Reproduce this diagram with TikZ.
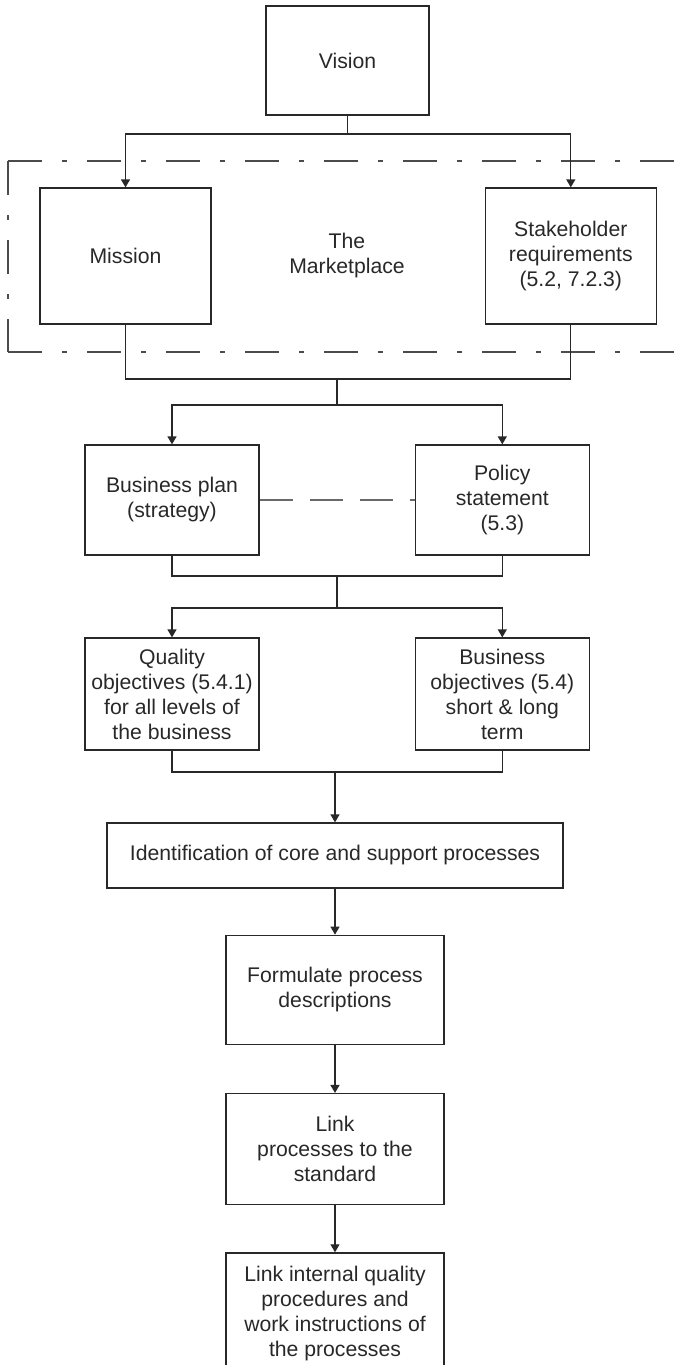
\documentclass[tikz,border=0pt]{standalone}
\usepackage{fontspec}
\setmainfont{Liberation Sans}
\usetikzlibrary{arrows.meta,positioning}
\definecolor{tinta}{RGB}{40,40,40}
\definecolor{grism}{RGB}{75,75,75}
\definecolor{grisc}{RGB}{105,105,105}
\tikzset{
  caja/.style={draw=tinta, line width=0.65pt, align=center, inner sep=0pt, text=tinta, font=\fontsize{10.6}{12.5}\selectfont},
  marco/.style={draw=grism, line width=1.25pt, dash pattern=on 17pt off 10pt on 2.5pt off 10pt},
  enl/.style={draw=tinta, line width=0.65pt},
  fl/.style={enl, -{Triangle[length=4pt,width=4.5pt]}},
  rayas/.style={draw=grisc, line width=0.75pt, dash pattern=on 16.5pt off 8.5pt},
  et/.style={align=center, text=tinta, font=\fontsize{10.6}{12.5}\selectfont},
}

\begin{document}
\begin{tikzpicture}[x=0.5pt, y=-0.5pt]
  \useasboundingbox (0,0) rectangle (690,1365);
  \clip (0,0) rectangle (690,1365);
  \coordinate (mk-nw) at (8,161);
  \coordinate (mk-ne) at (675,161);
  \coordinate (mk-sw) at (8,352);
  \coordinate (mk-se) at (675,352);
  \coordinate (mk-re) at (691.3,161);
  \coordinate (mk-rs) at (691.3,352);
  \draw[marco] (mk-nw) -- (mk-ne);
  \draw[marco] (mk-nw) -- (mk-sw);
  \draw[marco] (mk-sw) -- (mk-se);
  \draw[marco, draw=grism!45] (mk-re) -- (mk-rs);
  \node[caja, minimum width=81.5pt, minimum height=54.5pt] (vis) at (347.5,60.5) {Vision};
  \node[caja, minimum width=85.5pt, minimum height=68pt] (mis) at (125.5,256) {Mission};
  \node[caja, minimum width=85.5pt, minimum height=68pt, right=136.5pt of mis] (stk) {Stakeholder\\requirements\\(5.2, 7.2.3)};
  \node[et] (mkt) at (347,256) {The\\Marketplace};
  \node[caja, minimum width=87pt, minimum height=55pt] (bp) at (172,500) {Business plan\\(strategy)};
  \node[caja, minimum width=87pt, minimum height=55pt, right=77.5pt of bp] (pol) {Policy\\statement\\(5.3)};
  \node[caja, minimum width=87pt, minimum height=56pt] (qo) at (172,694) {Quality\\objectives (5.4.1)\\for all levels of\\the business};
  \node[caja, minimum width=87pt, minimum height=56pt, right=77.5pt of qo] (bo) {Business\\objectives (5.4)\\short \& long\\term};
  \node[caja, minimum width=228pt, minimum height=32.5pt] (idp) at (335,855.5) {Identification of core and support processes};
  \node[caja, minimum width=109pt, minimum height=54.5pt, below=23pt of idp] (form) {Formulate process\\descriptions};
  \node[caja, minimum width=109pt, minimum height=55.5pt, below=24pt of form] (lnk) {Link\\processes to the\\standard};
  \node[caja, minimum width=109pt, minimum height=60.5pt, below=23.5pt of lnk] (proc) {Link internal quality\\procedures and\\work instructions of\\the processes};
  \coordinate (j1) at (347.5,134);
  \coordinate (j2) at (337,379);
  \coordinate (j3) at (337,405);
  \coordinate (j4) at (337,576);
  \coordinate (j5) at (337,608);
  \coordinate (j6) at (335,772);
  \draw[enl] (vis.south) -- (j1);
  \draw[fl] (j1) -| (mis.north);
  \draw[fl] (j1) -| (stk.north);
  \draw[enl] (mis.south) |- (j2);
  \draw[enl] (stk.south) |- (j2);
  \draw[enl] (j2) -- (j3);
  \draw[fl] (j3) -| (bp.north);
  \draw[fl] (j3) -| (pol.north);
  \draw[rayas] (bp.east) -- (pol.west);
  \draw[enl] (bp.south) |- (j4);
  \draw[enl] (pol.south) |- (j4);
  \draw[enl] (j4) -- (j5);
  \draw[fl] (j5) -| (qo.north);
  \draw[fl] (j5) -| (bo.north);
  \draw[enl] (qo.south) |- (j6);
  \draw[enl] (bo.south) |- (j6);
  \draw[fl] (j6) -- (idp.north);
  \draw[fl] (idp.south) -- (form.north);
  \draw[fl] (form.south) -- (lnk.north);
  \draw[fl] (lnk.south) -- (proc.north);
\end{tikzpicture}
\end{document}
